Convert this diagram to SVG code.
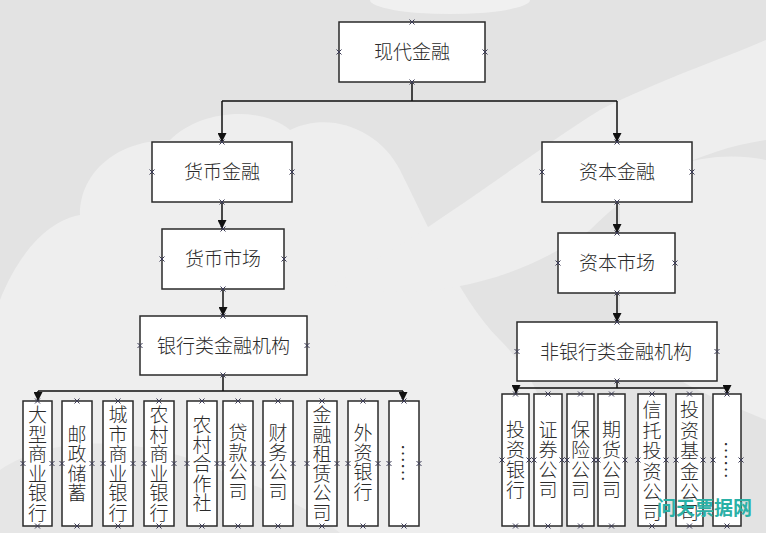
<svg xmlns="http://www.w3.org/2000/svg" xmlns:xlink="http://www.w3.org/1999/xlink" width="766" height="533" viewBox="0 0 766 533">
<style>
.box{fill:#ffffff;stroke:#2a2a2a;stroke-width:1.5}
.t{font-family:"Noto Sans CJK SC","Noto Sans CJK JP",sans-serif;font-size:19px;font-weight:300;fill:#2a2a2a;text-anchor:middle}
.v{font-family:"Noto Sans CJK SC","Noto Sans CJK JP",sans-serif;font-size:19px;font-weight:300;fill:#2a2a2a;text-anchor:middle}
.line{fill:none;stroke:#111;stroke-width:1.5}
.cp{fill:none;stroke:#3a3a55;stroke-width:1}
.wm{font-family:"Noto Sans CJK SC",sans-serif;font-size:19px;font-weight:bold;fill:#2ab0a6}
.cloud{fill:#eeeeee}
</style>
<defs>
<marker id="arr" viewBox="0 0 10 10" refX="10" refY="5" markerWidth="9" markerHeight="9" markerUnits="userSpaceOnUse" orient="auto">
<path d="M0,0 L10,5 L0,10 z" fill="#111"/>
</marker>
<path id="cp" class="cp" d="M-2.5,-2.5 L2.5,2.5 M-2.5,2.5 L2.5,-2.5"/>
</defs>
<g id="background">
<rect x="0" y="0" width="766" height="533" fill="#e3e3e3"/>
<path class="cloud" d="M0,300 C20,250 50,220 80,215 C80,170 120,140 170,140 C200,110 260,105 290,130 C330,110 380,130 400,170 C430,230 460,300 500,340 C540,380 560,430 560,533 L0,533 Z"/>
<path class="cloud" d="M330,285 C420,240 520,160 600,110 C660,80 720,60 766,40 L766,140 C700,150 640,180 590,230 C520,280 430,305 330,285 Z"/>
<path class="cloud" d="M620,200 C660,160 720,150 766,160 L766,420 C720,400 660,380 620,330 Z"/>
<ellipse cx="450" cy="0" rx="80" ry="14" fill="#f0f0f0"/>
<path fill="#e6e6e6" d="M0,470 C60,430 150,440 220,470 C260,490 300,500 340,533 L0,533 Z"/>
</g>
<g id="connectors">
<path class="line" d="M412,82 V101 M222,101 H617"/>
<path class="line" d="M222,101 V142" marker-end="url(#arr)"/>
<path class="line" d="M617,101 V142" marker-end="url(#arr)"/>
<path class="line" d="M222,202 V229" marker-end="url(#arr)"/>
<path class="line" d="M617,202 V233" marker-end="url(#arr)"/>
<path class="line" d="M223,289 V316" marker-end="url(#arr)"/>
<path class="line" d="M617,293 V322" marker-end="url(#arr)"/>
<path class="line" d="M223,375 V391 M38,391 H403"/>
<path class="line" d="M38,391 V401" marker-end="url(#arr)"/>
<path class="line" d="M403,391 V401" marker-end="url(#arr)"/>
<path class="line" d="M617,381 V388 M516,388 H727"/>
<path class="line" d="M516,388 V394" marker-end="url(#arr)"/>
<path class="line" d="M727,388 V394" marker-end="url(#arr)"/>
</g>
<g id="n0"><rect class="box" x="339" y="22" width="146" height="60"/><text class="t" x="412" y="59">现代金融</text>
<use href="#cp" x="412" y="22"/><use href="#cp" x="412" y="82"/><use href="#cp" x="339" y="52"/><use href="#cp" x="485" y="52"/></g>
<g id="n1"><rect class="box" x="152" y="142" width="140" height="60"/><text class="t" x="222" y="179">货币金融</text>
<use href="#cp" x="222" y="142"/><use href="#cp" x="222" y="202"/><use href="#cp" x="152" y="172"/><use href="#cp" x="292" y="172"/></g>
<g id="n2"><rect class="box" x="542" y="142" width="150" height="60"/><text class="t" x="617" y="179">资本金融</text>
<use href="#cp" x="617" y="142"/><use href="#cp" x="617" y="202"/><use href="#cp" x="542" y="172"/><use href="#cp" x="692" y="172"/></g>
<g id="n3"><rect class="box" x="162" y="229" width="122" height="60"/><text class="t" x="223" y="266">货币市场</text>
<use href="#cp" x="223" y="229"/><use href="#cp" x="223" y="289"/><use href="#cp" x="162" y="259"/><use href="#cp" x="284" y="259"/></g>
<g id="n4"><rect class="box" x="558" y="233" width="117" height="60"/><text class="t" x="617" y="270">资本市场</text>
<use href="#cp" x="617" y="233"/><use href="#cp" x="617" y="293"/><use href="#cp" x="558" y="263"/><use href="#cp" x="675" y="263"/></g>
<g id="n5"><rect class="box" x="140" y="316" width="167" height="59"/><text class="t" x="223.5" y="353">银行类金融机构</text>
<use href="#cp" x="223" y="316"/><use href="#cp" x="223" y="375"/><use href="#cp" x="140" y="345.5"/><use href="#cp" x="307" y="345.5"/></g>
<g id="n6"><rect class="box" x="517" y="322" width="200" height="59"/><text class="t" x="616" y="359">非银行类金融机构</text>
<use href="#cp" x="617" y="322"/><use href="#cp" x="617" y="381"/><use href="#cp" x="517" y="351.5"/><use href="#cp" x="717" y="351.5"/></g>

<g id="b1"><rect class="box" x="23" y="401" width="29" height="125"/>
<text class="v" x="37.5" y="422.2"><tspan x="37.5">大</tspan><tspan x="37.5" dy="19.5">型</tspan><tspan x="37.5" dy="19.5">商</tspan><tspan x="37.5" dy="19.5">业</tspan><tspan x="37.5" dy="19.5">银</tspan><tspan x="37.5" dy="19.5">行</tspan></text>
<use href="#cp" x="37.5" y="401"/><use href="#cp" x="37.5" y="526"/><use href="#cp" x="23" y="463.5"/><use href="#cp" x="52" y="463.5"/></g>
<g id="b2"><rect class="box" x="62" y="401" width="30" height="125"/>
<text class="v" x="77" y="441.7"><tspan x="77">邮</tspan><tspan x="77" dy="19.5">政</tspan><tspan x="77" dy="19.5">储</tspan><tspan x="77" dy="19.5">蓄</tspan></text>
<use href="#cp" x="77" y="401"/><use href="#cp" x="77" y="526"/><use href="#cp" x="62" y="463.5"/><use href="#cp" x="92" y="463.5"/></g>
<g id="b3"><rect class="box" x="103" y="401" width="30" height="125"/>
<text class="v" x="118" y="422.2"><tspan x="118">城</tspan><tspan x="118" dy="19.5">市</tspan><tspan x="118" dy="19.5">商</tspan><tspan x="118" dy="19.5">业</tspan><tspan x="118" dy="19.5">银</tspan><tspan x="118" dy="19.5">行</tspan></text>
<use href="#cp" x="118" y="401"/><use href="#cp" x="118" y="526"/><use href="#cp" x="103" y="463.5"/><use href="#cp" x="133" y="463.5"/></g>
<g id="b4"><rect class="box" x="144" y="401" width="30" height="125"/>
<text class="v" x="159" y="422.2"><tspan x="159">农</tspan><tspan x="159" dy="19.5">村</tspan><tspan x="159" dy="19.5">商</tspan><tspan x="159" dy="19.5">业</tspan><tspan x="159" dy="19.5">银</tspan><tspan x="159" dy="19.5">行</tspan></text>
<use href="#cp" x="159" y="401"/><use href="#cp" x="159" y="526"/><use href="#cp" x="144" y="463.5"/><use href="#cp" x="174" y="463.5"/></g>
<g id="b5"><rect class="box" x="187" y="401" width="30" height="125"/>
<text class="v" x="202" y="432"><tspan x="202">农</tspan><tspan x="202" dy="19.5">村</tspan><tspan x="202" dy="19.5">合</tspan><tspan x="202" dy="19.5">作</tspan><tspan x="202" dy="19.5">社</tspan></text>
<use href="#cp" x="202" y="401"/><use href="#cp" x="202" y="526"/><use href="#cp" x="187" y="463.5"/><use href="#cp" x="217" y="463.5"/></g>
<g id="b6"><rect class="box" x="223" y="401" width="30" height="125"/>
<text class="v" x="238" y="440"><tspan x="238">贷</tspan><tspan x="238" dy="19.5">款</tspan><tspan x="238" dy="19.5">公</tspan><tspan x="238" dy="19.5">司</tspan></text>
<use href="#cp" x="238" y="401"/><use href="#cp" x="238" y="526"/><use href="#cp" x="223" y="463.5"/><use href="#cp" x="253" y="463.5"/></g>
<g id="b7"><rect class="box" x="263" y="401" width="30" height="125"/>
<text class="v" x="278" y="440"><tspan x="278">财</tspan><tspan x="278" dy="19.5">务</tspan><tspan x="278" dy="19.5">公</tspan><tspan x="278" dy="19.5">司</tspan></text>
<use href="#cp" x="278" y="401"/><use href="#cp" x="278" y="526"/><use href="#cp" x="263" y="463.5"/><use href="#cp" x="293" y="463.5"/></g>
<g id="b8"><rect class="box" x="307" y="401" width="30" height="125"/>
<text class="v" x="322" y="422.2"><tspan x="322">金</tspan><tspan x="322" dy="19.5">融</tspan><tspan x="322" dy="19.5">租</tspan><tspan x="322" dy="19.5">赁</tspan><tspan x="322" dy="19.5">公</tspan><tspan x="322" dy="19.5">司</tspan></text>
<use href="#cp" x="322" y="401"/><use href="#cp" x="322" y="526"/><use href="#cp" x="307" y="463.5"/><use href="#cp" x="337" y="463.5"/></g>
<g id="b9"><rect class="box" x="348" y="401" width="30" height="125"/>
<text class="v" x="363" y="440"><tspan x="363">外</tspan><tspan x="363" dy="19.5">资</tspan><tspan x="363" dy="19.5">银</tspan><tspan x="363" dy="19.5">行</tspan></text>
<use href="#cp" x="363" y="401"/><use href="#cp" x="363" y="526"/><use href="#cp" x="348" y="463.5"/><use href="#cp" x="378" y="463.5"/></g>
<g id="b10"><rect class="box" x="389" y="401" width="30" height="125"/>
<text class="v" transform="translate(403.5,463) rotate(90)" dominant-baseline="central">……</text>
<use href="#cp" x="404" y="401"/><use href="#cp" x="404" y="526"/><use href="#cp" x="389" y="463.5"/><use href="#cp" x="419" y="463.5"/></g>

<g id="r1"><rect class="box" x="502" y="394" width="27" height="132"/>
<text class="v" x="515.5" y="437"><tspan x="515.5">投</tspan><tspan x="515.5" dy="20">资</tspan><tspan x="515.5" dy="20">银</tspan><tspan x="515.5" dy="20">行</tspan></text>
<use href="#cp" x="515.5" y="394"/><use href="#cp" x="515.5" y="526"/><use href="#cp" x="502" y="460"/><use href="#cp" x="529" y="460"/></g>
<g id="r2"><rect class="box" x="534" y="394" width="28" height="132"/>
<text class="v" x="548" y="437"><tspan x="548">证</tspan><tspan x="548" dy="20">券</tspan><tspan x="548" dy="20">公</tspan><tspan x="548" dy="20">司</tspan></text>
<use href="#cp" x="548" y="394"/><use href="#cp" x="548" y="526"/><use href="#cp" x="534" y="460"/><use href="#cp" x="562" y="460"/></g>
<g id="r3"><rect class="box" x="567" y="394" width="27" height="132"/>
<text class="v" x="580.5" y="437"><tspan x="580.5">保</tspan><tspan x="580.5" dy="20">险</tspan><tspan x="580.5" dy="20">公</tspan><tspan x="580.5" dy="20">司</tspan></text>
<use href="#cp" x="580.5" y="394"/><use href="#cp" x="580.5" y="526"/><use href="#cp" x="567" y="460"/><use href="#cp" x="594" y="460"/></g>
<g id="r4"><rect class="box" x="598" y="394" width="27" height="132"/>
<text class="v" x="611.5" y="437"><tspan x="611.5">期</tspan><tspan x="611.5" dy="20">货</tspan><tspan x="611.5" dy="20">公</tspan><tspan x="611.5" dy="20">司</tspan></text>
<use href="#cp" x="611.5" y="394"/><use href="#cp" x="611.5" y="526"/><use href="#cp" x="598" y="460"/><use href="#cp" x="625" y="460"/></g>
<g id="r5"><rect class="box" x="638" y="394" width="28" height="132"/>
<text class="v" x="652" y="417"><tspan x="652">信</tspan><tspan x="652" dy="20.5">托</tspan><tspan x="652" dy="20.5">投</tspan><tspan x="652" dy="20.5">资</tspan><tspan x="652" dy="20.5">公</tspan><tspan x="652" dy="20.5">司</tspan></text>
<use href="#cp" x="652" y="394"/><use href="#cp" x="652" y="526"/><use href="#cp" x="638" y="460"/><use href="#cp" x="666" y="460"/></g>
<g id="r6"><rect class="box" x="676" y="394" width="27" height="132"/>
<text class="v" x="689.5" y="417"><tspan x="689.5">投</tspan><tspan x="689.5" dy="20.5">资</tspan><tspan x="689.5" dy="20.5">基</tspan><tspan x="689.5" dy="20.5">金</tspan><tspan x="689.5" dy="20.5">公</tspan><tspan x="689.5" dy="20.5">司</tspan></text>
<use href="#cp" x="689.5" y="394"/><use href="#cp" x="689.5" y="526"/><use href="#cp" x="676" y="460"/><use href="#cp" x="703" y="460"/></g>
<g id="r7"><rect class="box" x="713" y="394" width="28" height="132"/>
<text class="v" transform="translate(726.5,460) rotate(90)" dominant-baseline="central">……</text>
<use href="#cp" x="727" y="394"/><use href="#cp" x="727" y="526"/><use href="#cp" x="713" y="460"/><use href="#cp" x="741" y="460"/></g>

<g id="watermark"><text class="wm" x="657" y="515">问天票据网</text></g>
</svg>
